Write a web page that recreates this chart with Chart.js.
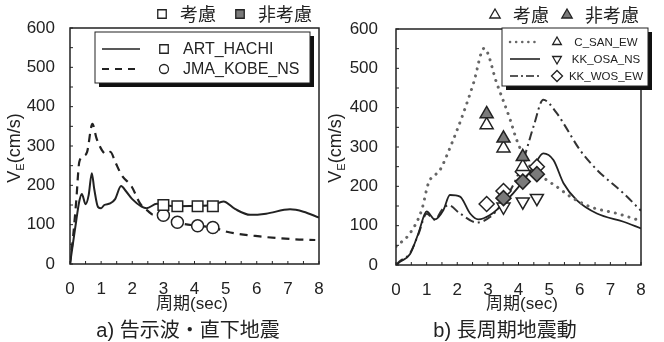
<!DOCTYPE html>
<html>
<head>
<meta charset="utf-8">
<script src="https://cdn.jsdelivr.net/npm/chart.js@4.4.1/dist/chart.umd.min.js"></script>
<style>
  body { margin: 0; background: #fff; width: 664px; height: 342px; overflow: hidden; position: relative; }
  canvas { position: absolute; top: 0; }
  #chartA { left: 0; }
  #chartB { left: 322px; }
  .xtitle, .caption { position: absolute; white-space: nowrap; color: #222; transform: translateX(-50%);
    font-family: "Liberation Sans", "Noto Sans CJK JP", sans-serif; }
  .xtitle { top: 289px; font-size: 17px; }
  .caption { top: 314px; font-size: 20px; }
</style>
</head>
<body>
<canvas id="chartA" width="332" height="300"></canvas>
<canvas id="chartB" width="342" height="300"></canvas>
<div class="xtitle" style="left:192px">周期(sec)</div>
<div class="xtitle" style="left:522px">周期(sec)</div>
<div class="caption" style="left:188px">a) 告示波・直下地震</div>
<div class="caption" style="left:505px">b) 長周期地震動</div>
<script>
// a) 告示波・直下地震
const periodArt = [0, 0.1, 0.2, 0.3, 0.38, 0.5, 0.6, 0.7, 0.78, 0.9, 1.0, 1.1, 1.29, 1.45, 1.64, 1.8, 2.0, 2.3, 2.46, 2.79, 3.0, 3.45, 4.1, 4.59, 4.93, 5.3, 5.79, 6.3, 7.07, 7.5, 8.0];
const veArt = [0, 55, 110, 160, 178, 152, 175, 231, 190, 145, 142, 150, 154, 165, 198, 185, 165, 146, 142, 153, 150, 147, 148, 150, 159, 140, 125, 128, 139, 133, 118];
const periodKobe = [0, 0.1, 0.2, 0.3, 0.45, 0.55, 0.72, 0.85, 1.02, 1.15, 1.3, 1.45, 1.66, 1.98, 2.25, 2.5, 2.68, 2.98, 3.45, 4.1, 4.59, 5.04, 6.1, 7.18, 7.88];
const veKobe = [0, 70, 160, 260, 275, 285, 356, 320, 290, 280, 285, 260, 226, 197, 154, 135, 125, 124, 106, 97, 93, 82, 70, 63, 61];
const periodMarkA = [3.0, 3.45, 4.1, 4.59];
const veArtMark = [150, 147, 147, 147];
const veKobeMark = [124, 106, 97, 93];

// b) 長周期地震動
const periodCsan = [0, 0.46, 0.84, 1.06, 1.44, 1.82, 2.2, 2.53, 2.88, 3.29, 3.73, 3.94, 4.38, 4.92, 5.25, 5.69, 6.34, 7.21, 8.0];
const veCsan = [47, 81, 140, 208, 242, 309, 386, 462, 551, 462, 369, 318, 250, 216, 199, 174, 148, 131, 112];
const periodOsa = [0, 0.13, 0.46, 0.73, 1.0, 1.27, 1.55, 1.76, 2.09, 2.42, 2.69, 3.07, 3.62, 4.05, 4.49, 4.81, 5.14, 5.47, 5.9, 6.56, 7.43, 8.0];
const veOsa = [0, 8, 28, 80, 136, 116, 140, 178, 174, 131, 116, 127, 165, 203, 250, 284, 267, 208, 165, 131, 110, 93];
const periodWos = [0, 0.13, 0.46, 0.73, 1.0, 1.27, 1.5, 1.71, 2.09, 2.64, 3.07, 3.5, 3.9, 4.16, 4.49, 4.81, 5.25, 5.47, 6.01, 6.56, 7.43, 8.0];
const veWos = [0, 10, 30, 78, 130, 115, 140, 152, 131, 108, 122, 160, 215, 267, 352, 420, 386, 360, 292, 242, 182, 138];
const periodCsanMark = [2.96, 3.51, 4.14];
const veCsanOn = [356, 297, 250];
const veCsanOff = [384, 322, 275];
const periodOsaMark = [3.51, 4.14, 4.6];
const veOsaOn = [148, 161, 170];
const periodWosOn = [2.96, 3.51, 4.14, 4.6];
const veWosOn = [155, 188, 237, 250];
const periodWosOff = [3.51, 4.14, 4.6];
const veWosOff = [170, 212, 231];

const periodTicks = [0, 1, 2, 3, 4, 5, 6, 7, 8];

Chart.defaults.font.family = '"Liberation Sans", Arial, sans-serif';
Chart.defaults.color = "#222";

const INK = "#222";
const GREY = "#7a7a7a";
const CJK = '"Noto Sans CJK JP", sans-serif';

function pts(xs, ys) {
    return xs.map((x, i) => ({ x: x, y: ys[i] }));
}

function lineSet(label, xs, ys, dash, color, width) {
    return {
        label: label,
        data: pts(xs, ys),
        borderColor: color,
        borderWidth: width,
        borderDash: dash,
        borderCapStyle: dash.length && dash[0] < 1 ? "round" : "butt",
        pointRadius: 0,
        cubicInterpolationMode: "monotone",
        fill: false,
        order: 1,
    };
}

function markSet(xs, ys, style, radius, filled, rotation) {
    return {
        data: pts(xs, ys),
        showLine: false,
        pointStyle: style,
        pointRadius: radius,
        pointRotation: rotation || 0,
        pointBackgroundColor: filled ? GREY : "#fff",
        pointBorderColor: INK,
        pointBorderWidth: 1.5,
        order: 0,
    };
}

function drawMark(ctx, m, x, y) {
    ctx.fillStyle = m.filled ? GREY : "#fff";
    ctx.strokeStyle = INK;
    ctx.lineWidth = 1.3;
    Chart.helpers.drawPoint(ctx, { pointStyle: m.style, radius: m.r, rotation: m.rot || 0, borderWidth: 1.3 }, x, y);
}

// frame, inner ticks, y title, legends
function makeDecor(cfg) {
    return {
        id: "decor",
        afterDraw(chart) {
            const ctx = chart.ctx;
            const a = chart.chartArea;
            const xs = chart.scales.x;
            const ys = chart.scales.y;
            ctx.save();
            ctx.setLineDash([]);
            ctx.strokeStyle = INK;
            ctx.lineWidth = 1.5;
            ctx.strokeRect(a.left, a.top, a.right - a.left, a.bottom - a.top);
            ctx.beginPath();
            ctx.lineWidth = 1;
            for (let v = 0; v <= 8; v += 0.5) {
                const px = xs.getPixelForValue(v);
                ctx.moveTo(px, a.bottom);
                ctx.lineTo(px, a.bottom - 3);
            }
            for (let v = 0; v <= 600; v += 50) {
                const py = ys.getPixelForValue(v);
                ctx.moveTo(a.left, py);
                ctx.lineTo(a.left + 3, py);
            }
            ctx.stroke();

            // y title V_E(cm/s)
            ctx.save();
            ctx.translate(cfg.yTitleX, 148);
            ctx.rotate(-Math.PI / 2);
            ctx.fillStyle = INK;
            ctx.textBaseline = "middle";
            ctx.font = "18px " + Chart.defaults.font.family;
            const wV = ctx.measureText("V").width;
            ctx.font = "11px " + Chart.defaults.font.family;
            const wE = ctx.measureText("E").width;
            ctx.font = "18px " + Chart.defaults.font.family;
            const wU = ctx.measureText("(cm/s)").width;
            let x0 = -(wV + wE + wU) / 2;
            ctx.fillText("V", x0, 0);
            ctx.font = "11px " + Chart.defaults.font.family;
            ctx.fillText("E", x0 + wV, 6);
            ctx.font = "18px " + Chart.defaults.font.family;
            ctx.fillText("(cm/s)", x0 + wV + wE, 0);
            ctx.restore();

            // top legend (考慮 / 非考慮)
            const t = cfg.top;
            ctx.font = "18px " + CJK;
            ctx.textBaseline = "middle";
            ctx.fillStyle = INK;
            drawMark(ctx, Object.assign({}, t.mark, { filled: false }), t.x1, t.y);
            ctx.fillStyle = INK;
            ctx.fillText("考慮", t.x1 + 18, t.y);
            drawMark(ctx, Object.assign({}, t.mark, { filled: true }), t.x2, t.y);
            ctx.fillStyle = INK;
            ctx.fillText("非考慮", t.x2 + 18, t.y);

            // boxed legend with shadow
            const b = cfg.box;
            ctx.fillStyle = "#111";
            ctx.fillRect(b.x + 4, b.y + 4, b.w, b.h);
            ctx.fillStyle = "#fff";
            ctx.fillRect(b.x, b.y, b.w, b.h);
            ctx.strokeStyle = INK;
            ctx.lineWidth = 1;
            ctx.strokeRect(b.x, b.y, b.w, b.h);
            ctx.font = b.font;
            ctx.textAlign = b.align;
            b.rows.forEach(r => {
                ctx.beginPath();
                ctx.setLineDash(r.dash);
                ctx.lineCap = r.dash.length && r.dash[0] < 1 ? "round" : "butt";
                ctx.strokeStyle = r.color;
                ctx.lineWidth = r.width;
                ctx.moveTo(b.lineX0, r.y);
                ctx.lineTo(b.lineX1, r.y);
                ctx.stroke();
                ctx.setLineDash([]);
                ctx.lineCap = "butt";
                drawMark(ctx, r.mark, b.markX, r.y);
                ctx.fillStyle = INK;
                ctx.fillText(r.text, b.textX, r.y + 1);
            });
            ctx.restore();
        },
    };
}

function baseOptions(yWidth, padTop, padRight, xHeight, yPad) {
    return {
        responsive: false,
        animation: false,
        devicePixelRatio: 1,
        layout: { padding: { top: padTop, right: padRight, left: 0, bottom: 0 } },
        plugins: { legend: { display: false }, tooltip: { enabled: false } },
        scales: {
            x: {
                type: "linear", min: 0, max: 8,
                grid: { display: false }, border: { display: false },
                afterBuildTicks: s => { s.ticks = periodTicks.map(v => ({ value: v })); },
                afterFit: s => { s.height = xHeight; },
                ticks: { font: { size: 17 }, padding: 7, maxRotation: 0, autoSkip: false, color: INK },
            },
            y: {
                min: 0, max: 600,
                grid: { display: false }, border: { display: false },
                afterFit: s => { s.width = yWidth; },
                ticks: { stepSize: 100, font: { size: 17 }, padding: yPad, color: INK },
            },
        },
    };
}

new Chart(document.getElementById("chartA"), {
    type: "line",
    data: {
        datasets: [
            markSet(periodMarkA, veArtMark, "rect", 7.5, false),
            markSet(periodMarkA, veKobeMark, "circle", 6, false),
            lineSet("ART_HACHI", periodArt, veArt, [], INK, 2),
            lineSet("JMA_KOBE_NS", periodKobe, veKobe, [8, 6], INK, 2.2),
        ],
    },
    options: baseOptions(70, 28, 13, 36, 7),
    plugins: [makeDecor({
        yTitleX: 15,
        top: { x1: 162, x2: 240, y: 14, mark: { style: "rect", r: 6 } },
        box: {
            x: 95, y: 32, w: 215, h: 51, font: "16px " + Chart.defaults.font.family, align: "left",
            lineX0: 102, lineX1: 140, markX: 164, textX: 183,
            rows: [
                { y: 49, dash: [], color: INK, width: 1.6, text: "ART_HACHI", mark: { style: "rect", r: 6 } },
                { y: 69, dash: [7, 6], color: INK, width: 2, text: "JMA_KOBE_NS", mark: { style: "circle", r: 4.5 } },
            ],
        },
    })],
});

new Chart(document.getElementById("chartB"), {
    type: "line",
    data: {
        datasets: [
            markSet(periodCsanMark, veCsanOff, "triangle", 7.5, true),
            markSet(periodCsanMark, veCsanOn, "triangle", 7.5, false),
            markSet(periodWosOff, veWosOff, "rectRot", 7.5, true),
            markSet(periodWosOn, veWosOn, "rectRot", 7.5, false),
            markSet(periodOsaMark, veOsaOn, "triangle", 7.5, false, 180),
            lineSet("C_SAN_EW", periodCsan, veCsan, [0.1, 7], "#666", 3),
            lineSet("KK_OSA_NS", periodOsa, veOsa, [], INK, 1.8),
            lineSet("KK_WOS_EW", periodWos, veWos, [9, 4, 2, 4], "#333", 2),
        ],
    },
    options: baseOptions(74, 29, 23, 35, 10),
    plugins: [makeDecor({
        yTitleX: 14,
        top: { x1: 173, x2: 245, y: 15, mark: { style: "triangle", r: 6 } },
        box: {
            x: 180, y: 28, w: 146, h: 58, font: "11.5px " + Chart.defaults.font.family, align: "center",
            lineX0: 188, lineX1: 218, markX: 235, textX: 284,
            rows: [
                { y: 42, dash: [0.1, 6], color: "#666", width: 2.5, text: "C_SAN_EW", mark: { style: "triangle", r: 5 } },
                { y: 59, dash: [], color: INK, width: 1.6, text: "KK_OSA_NS", mark: { style: "triangle", r: 5, rot: 180 } },
                { y: 76, dash: [8, 3, 2, 3], color: INK, width: 1.6, text: "KK_WOS_EW", mark: { style: "rectRot", r: 5.5 } },
            ],
        },
    })],
});
</script>
</body>
</html>
